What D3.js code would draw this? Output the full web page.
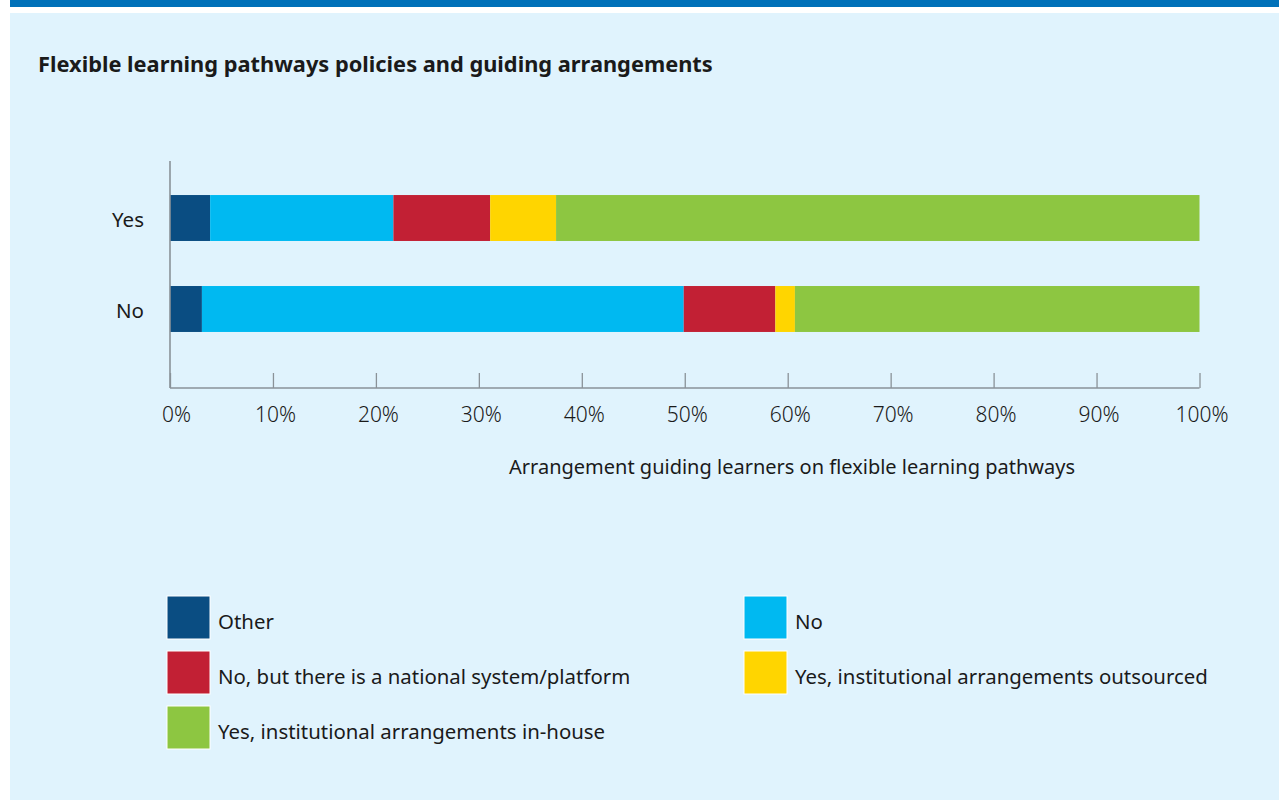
<!DOCTYPE html>
<html>
<head>
<meta charset="utf-8">
<script src="https://cdn.jsdelivr.net/npm/d3@7"></script>
<style>
  html, body { margin: 0; padding: 0; background: #ffffff; }
  svg { display: block; }
  text { font-family: "Noto Sans", "Open Sans", sans-serif; fill: #1a1a1a; }
</style>
</head>
<body>
<svg id="chart" width="1279" height="802"></svg>
<script>
// Policy groups (rows) and the share of each guiding arrangement (%)
const categories = ["Yes", "No"];
const seriesNames = [
  "Other",
  "No",
  "No, but there is a national system/platform",
  "Yes, institutional arrangements outsourced",
  "Yes, institutional arrangements in-house"
];
const otherValues = [3.9, 3.1];
const noValues = [17.8, 46.8];
const nationalValues = [9.4, 8.9];
const outsourcedValues = [6.4, 1.9];
const inHouseValues = [62.5, 39.3];
const tickValues = [0, 10, 20, 30, 40, 50, 60, 70, 80, 90, 100];
const tickLabels = tickValues.map(v => v + "%");
const seriesColors = ["#0a4d82", "#00b9f1", "#c22034", "#ffd500", "#8dc641"];

const seriesValues = [otherValues, noValues, nationalValues, outsourcedValues, inHouseValues];
const rows = categories.map((c, i) => {
  const r = { category: c };
  seriesNames.forEach((s, j) => { r[s] = seriesValues[j][i]; });
  return r;
});

const svg = d3.select("#chart");

// page frame: blue top rule and pale panel
svg.append("rect").attr("x", 10).attr("y", 0).attr("width", 1269).attr("height", 7).attr("fill", "#0071b9");
svg.append("rect").attr("x", 10).attr("y", 13).attr("width", 1269).attr("height", 787).attr("fill", "#e0f3fd");

svg.append("text")
  .attr("x", 38).attr("y", 72)
  .attr("font-size", 21.8).attr("font-weight", 700)
  .text("Flexible learning pathways policies and guiding arrangements");

const x = d3.scaleLinear().domain([0, 100]).range([170, 1199.5]);
const y = d3.scaleBand().domain(categories).range([150, 377]).paddingInner(0.495).paddingOuter(0.495);
const color = d3.scaleOrdinal().domain(seriesNames).range(seriesColors);

const stacked = d3.stack().keys(seriesNames)(rows);

svg.append("g").selectAll("g")
  .data(stacked)
  .join("g")
  .attr("fill", d => color(d.key))
  .selectAll("rect")
  .data(d => d)
  .join("rect")
  .attr("x", d => x(d[0]))
  .attr("width", d => x(d[1]) - x(d[0]))
  .attr("y", d => y(d.data.category))
  .attr("height", y.bandwidth());

// axes
const axisColor = "#8a9298";
const xAxis = d3.axisBottom(x).tickValues(tickValues).tickSize(15).tickSizeOuter(0)
  .tickFormat((d, i) => tickLabels[i]).tickPadding(0);
const gx = svg.append("g").attr("transform", "translate(0,388)");
gx.call(xAxis);
gx.select(".domain").remove();
gx.selectAll(".tick line").attr("stroke", axisColor).attr("stroke-width", 1.3).attr("y1", -15).attr("y2", 0);
gx.selectAll(".tick text")
  .attr("y", 34).attr("dy", 0).attr("fill", "#333")
  .attr("font-size", 21).attr("font-weight", 300)
  .attr("dx", (d, i) => i === 0 ? 6 : 2)
  .style("font-family", '"Noto Sans", "Open Sans", sans-serif');
svg.append("line").attr("x1", 170).attr("x2", 1199.5).attr("y1", 388).attr("y2", 388)
  .attr("stroke", axisColor).attr("stroke-width", 1.6);
svg.append("line").attr("x1", 170).attr("x2", 170).attr("y1", 161).attr("y2", 388)
  .attr("stroke", axisColor).attr("stroke-width", 1.6);

const yAxis = d3.axisLeft(y).tickSize(0).tickPadding(26);
const gy = svg.append("g").attr("transform", "translate(170,0)");
gy.call(yAxis);
gy.select(".domain").remove();
gy.selectAll(".tick text")
  .attr("fill", "#1a1a1a").attr("font-size", 20.5).attr("dy", "0.45em")
  .style("font-family", '"Noto Sans", "Open Sans", sans-serif');

svg.append("text")
  .attr("x", 792).attr("y", 474).attr("text-anchor", "middle")
  .attr("font-size", 20)
  .text("Arrangement guiding learners on flexible learning pathways");

// legend, two columns
const legend = svg.append("g").selectAll("g")
  .data(seriesNames)
  .join("g")
  .attr("transform", (d, i) => `translate(${i % 2 === 0 ? 167 : 744},${596 + Math.floor(i / 2) * 55})`);
legend.append("rect")
  .attr("width", 43).attr("height", 43)
  .attr("fill", d => color(d)).attr("stroke", "#ffffff").attr("stroke-width", 1);
legend.append("text")
  .attr("x", 51).attr("y", 33)
  .attr("font-size", 20.4)
  .text(d => d);
</script>
</body>
</html>
